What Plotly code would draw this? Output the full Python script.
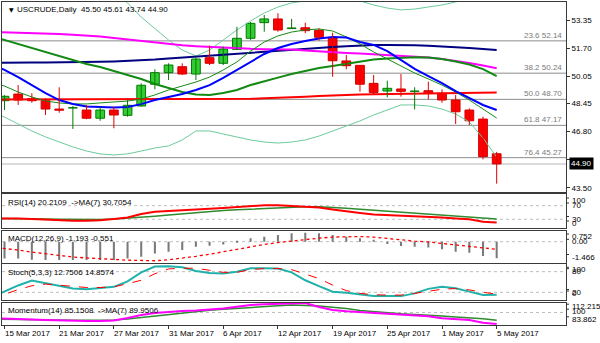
import plotly.graph_objects as go

W, H = 600, 343
FONT = "Liberation Sans, Arial, sans-serif"

def py(p):
    return 1 - p / H

def px(p):
    return p / W

# ---------------- data ----------------
dates = ["15 Mar 2017", "21 Mar 2017", "27 Mar 2017", "31 Mar 2017", "6 Apr 2017",
         "12 Apr 2017", "19 Apr 2017", "25 Apr 2017", "1 May 2017", "5 May 2017"]
date_bars = [0, 4, 8, 12, 16, 20, 24, 28, 32, 36]

opens = [48.62, 49.01, 48.74, 48.62, 48.13, 48.19, 48.07, 47.59, 48.07, 47.76,
         48.31, 49.59, 50.27, 50.62, 50.19, 51.15, 50.82, 51.64, 52.29, 53.21,
         53.43, 52.86, 52.91, 52.76, 52.33, 50.96, 50.70, 49.64, 49.19, 49.31,
         49.17, 49.21, 49.06, 48.66, 48.07, 47.54, 45.50]
highs = [48.95, 49.54, 49.06, 48.76, 49.41, 48.31, 48.37, 48.27, 48.27, 48.66,
         49.64, 50.47, 50.82, 50.82, 51.21, 51.86, 51.80, 52.97, 53.25, 53.66,
         53.76, 53.43, 53.21, 52.88, 52.62, 51.31, 50.72, 50.13, 49.80, 50.19,
         49.41, 49.74, 49.29, 48.96, 48.17, 47.68, 45.61]
lows = [48.07, 48.37, 48.50, 47.78, 47.91, 46.96, 47.53, 47.44, 47.00, 47.68,
        48.27, 49.29, 49.84, 50.13, 49.84, 50.72, 50.72, 51.60, 52.20, 52.68,
        52.68, 52.86, 52.59, 52.15, 50.03, 50.47, 49.15, 48.96, 48.82, 48.86,
        48.11, 48.70, 48.50, 47.25, 47.19, 45.17, 43.74]
closes = [48.88, 48.66, 48.62, 48.13, 48.06, 48.21, 47.59, 48.07, 47.78, 48.35,
          49.53, 50.27, 50.72, 50.19, 51.07, 50.82, 51.66, 52.29, 53.17, 53.43,
          52.78, 52.90, 52.74, 52.35, 50.97, 50.68, 49.59, 49.11, 49.35, 49.17,
          49.19, 49.06, 48.66, 47.97, 47.44, 45.33, 44.90]
bars = list(range(len(closes)))
line_x = list(range(-1, 37))

ma_blue = [50.78, 50.43, 50.01, 49.54, 49.07, 48.66, 48.43, 48.28, 48.25, 48.22,
           48.25, 48.42, 48.66, 48.84, 49.01, 49.25, 49.54, 49.96, 50.43, 50.90,
           51.37, 51.72, 51.96, 52.13, 52.28, 52.37, 52.34, 52.07, 51.90, 51.54,
           51.01, 50.49, 50.07, 49.66, 49.19, 48.78, 48.37, 48.07]
ma_navy = [50.84, 50.86, 50.86, 50.87, 50.87, 50.87, 50.88, 50.90, 50.91, 50.93,
           50.96, 51.00, 51.04, 51.10, 51.16, 51.22, 51.28, 51.34, 51.40, 51.46,
           51.51, 51.57, 51.61, 51.66, 51.72, 51.78, 51.83, 51.87, 51.89, 51.90,
           51.90, 51.88, 51.85, 51.82, 51.78, 51.72, 51.66, 51.60]
ma_magenta = [52.66, 52.64, 52.63, 52.60, 52.57, 52.54, 52.50, 52.46, 52.40, 52.31,
              52.22, 52.13, 52.04, 51.96, 51.88, 51.83, 51.78, 51.74, 51.70, 51.67,
              51.65, 51.64, 51.63, 51.57, 51.51, 51.47, 51.43, 51.39, 51.35, 51.31,
              51.27, 51.22, 51.16, 51.07, 50.96, 50.84, 50.69, 50.53]
ma_green = [52.43, 52.19, 51.96, 51.72, 51.49, 51.25, 51.01, 50.78, 50.60, 50.37,
            50.13, 49.90, 49.60, 49.37, 49.13, 48.98, 48.96, 49.07, 49.25, 49.54,
            49.78, 49.98, 50.19, 50.37, 50.54, 50.66, 50.78, 50.93, 51.04, 51.11,
            51.16, 51.17, 51.16, 51.07, 50.93, 50.75, 50.48, 50.07]
ma_thin = [49.72, 49.48, 49.13, 48.84, 48.60, 48.49, 48.43, 48.43, 48.49, 48.54,
           48.60, 48.72, 48.96, 49.25, 49.48, 49.72, 50.01, 50.43, 50.90, 51.54,
           52.07, 52.43, 52.66, 52.78, 52.84, 52.72, 52.37, 51.96, 51.49, 51.07,
           50.66, 50.25, 49.90, 49.54, 49.13, 48.66, 48.13, 47.60]
bb_upper = [56.90, 56.78, 56.60, 56.43, 56.31, 56.19, 56.01, 55.72, 55.37, 54.96,
            54.37, 53.54, 52.84, 52.19, 51.60, 51.25, 51.60, 52.19, 52.78, 53.31,
            53.78, 54.13, 54.37, 54.49, 54.60, 54.66, 54.60, 54.49, 54.25, 54.07,
            53.96, 54.01, 54.13, 54.25, 54.43, 54.60, 55.13, 56.01]
bb_lower = [47.96, 47.66, 47.25, 46.84, 46.49, 46.19, 45.90, 45.66, 45.49, 45.43,
            45.49, 45.66, 45.84, 45.96, 46.31, 46.84, 46.84, 46.66, 46.49, 46.31,
            46.19, 46.13, 46.19, 46.31, 46.54, 46.84, 47.13, 47.43, 47.78, 48.07,
            48.37, 48.37, 48.31, 48.13, 47.84, 47.37, 46.43, 45.31]
ma_red = [48.69] * 16 + [48.70, 48.71, 48.72, 48.73, 48.76, 48.78, 48.81, 48.85,
                         48.89, 48.93, 48.96, 48.98, 49.00, 49.01, 49.03, 49.04,
                         49.06, 49.07, 49.07, 49.09, 49.10, 49.11]

fib_pct = ["23.6", "38.2", "50.0", "61.8", "76.4"]
fib_lvl = [52.14, 50.24, 48.70, 47.17, 45.27]
price_ticks = [53.35, 51.70, 50.05, 48.45, 46.80, 45.15, 43.50]

rsi = [32.4, 32.9, 32.4, 30.9, 29.4, 26.5, 25.9, 25.9, 27.1, 30.9,
       35.3, 45.6, 52.4, 54.4, 55.9, 58.2, 60.9, 63.2, 66.2, 70.6,
       71.5, 71.2, 69.1, 67.6, 64.7, 58.8, 52.9, 48.5, 44.1, 42.6,
       41.2, 39.7, 38.2, 35.3, 32.4, 30.0, 22.9, 20.2]
rsi_ma = [32.9, 32.9, 32.4, 31.8, 30.9, 30.3, 29.7, 29.4, 29.7, 30.9,
          32.9, 35.9, 39.1, 42.6, 46.2, 49.7, 52.9, 55.9, 58.2, 60.3,
          62.1, 63.8, 65.6, 66.8, 66.8, 65.3, 62.4, 59.4, 56.5, 53.5,
          50.6, 47.9, 45.0, 42.6, 40.3, 37.9, 35.0, 30.7]
macd = [-1.2, -1.2, -1.3, -1.32, -1.32, -1.32, -1.32, -1.32, -1.32, -1.2,
        -1.08, -0.84, -0.72, -0.6, -0.36, -0.3, -0.2, -0.05, 0.24, 0.36,
        0.48, 0.6, 0.65, 0.6, 0.48, 0.36, 0.24, 0.1, -0.17, -0.31,
        -0.36, -0.41, -0.55, -0.72, -0.79, -1.03, -1.193]
macd_sig = [-0.38, -0.47, -0.6, -0.75, -0.88, -1.0, -1.1, -1.17, -1.2, -1.27,
            -1.33, -1.36, -1.37, -1.3, -1.2, -1.05, -0.9, -0.72, -0.55, -0.36,
            -0.2, -0.06, 0.06, 0.14, 0.25, 0.33, 0.37, 0.37, 0.33, 0.22,
            0.13, 0.04, -0.02, -0.12, -0.22, -0.33, -0.44, -0.551]
stoch_k = [5, 22, 40, 54, 46, 38, 31, 29, 32, 36,
           52, 78, 95, 96, 93, 82, 76, 75, 80, 90,
           90, 89, 78, 55, 38, 22, 19, 14, 9, 9,
           9, 17, 30, 36, 32, 22, 12, 12.75]
stoch_d = [5, 14, 28, 39, 44, 40, 36, 34, 34, 36,
           45, 55, 74, 88, 90, 90, 84, 78, 78, 86,
           89, 89, 86, 72, 60, 41, 25, 17, 13, 12,
           12, 17, 22, 29, 31, 27, 20, 14.86]
mom = [92.88, 92.50, 91.85, 90.95, 90.31, 89.66, 89.02, 89.02, 89.02, 89.66,
       92.88, 96.75, 99.33, 101.00, 101.91, 102.55, 103.84, 105.13, 107.45, 109.64,
       110.54, 110.93, 111.57, 112.2, 107.0, 103.2, 101.5, 100.3, 99.0, 97.7,
       96.6, 95.8, 95.0, 92.5, 91.0, 90.3, 86.8, 85.15]
mom_ma = [91.59, 91.21, 90.82, 90.56, 90.31, 90.31, 90.05, 89.92, 89.92, 90.31,
          91.59, 93.53, 95.46, 97.39, 99.33, 101.26, 102.81, 104.10, 105.38, 106.67,
          107.70, 108.61, 109.5, 109.3, 108.2, 106.7, 105.2, 102.5, 100.8, 99.3,
          98.3, 97.5, 96.8, 95.5, 94.2, 93.4, 91.8, 89.95]

# ---------------- figure ----------------
fig = go.Figure()

def line(y, color, width, xa="x", ya="y", dash="solid", x=None):
    fig.add_trace(go.Scatter(x=x if x is not None else line_x, y=y, mode="lines",
                             line=dict(color=color, width=width, dash=dash),
                             xaxis=xa, yaxis=ya, hoverinfo="skip"))

# Bollinger bands & MAs
line(bb_upper, "#6CCB9A", 1)
line(bb_lower, "#6CCB9A", 1)
line(ma_red, "#FF0000", 2)
line(ma_navy, "#000080", 2)
line(ma_magenta, "#FF00FF", 2)
line(ma_green, "#138A13", 2)
line(ma_thin, "#138A13", 1)
line(ma_blue, "#0000FF", 2)

# wicks
for up in (True, False):
    wx, wy = [], []
    for i in bars:
        if (closes[i] >= opens[i]) == up:
            wx += [i, i, None]
            wy += [lows[i], highs[i], None]
    fig.add_trace(go.Scatter(x=wx, y=wy, mode="lines",
                             line=dict(color="#007A00" if up else "#E00000", width=1),
                             xaxis="x", yaxis="y", hoverinfo="skip"))

# bodies
base = [min(o, c) for o, c in zip(opens, closes)]
hgt = [max(abs(c - o), 0.015) for o, c in zip(opens, closes)]
fill = ["#33CC33" if c >= o else "#FF0000" for o, c in zip(opens, closes)]
edge = ["#007A00" if c >= o else "#D00000" for o, c in zip(opens, closes)]
fig.add_trace(go.Bar(x=bars, y=hgt, base=base, width=0.64,
                     marker=dict(color=fill, line=dict(color=edge, width=1)),
                     xaxis="x", yaxis="y", hoverinfo="skip"))

# RSI
line(rsi_ma, "#2E8B2E", 1.5, "x2", "y2")
line(rsi, "#FF0000", 2, "x2", "y2")
# MACD
fig.add_trace(go.Bar(x=bars, y=macd, width=0.15, marker=dict(color="#7A7A7A", line=dict(width=0)),
                     xaxis="x3", yaxis="y3", hoverinfo="skip"))
line(macd_sig, "#FF0000", 1.3, "x3", "y3", dash="dot")
# Stoch
line(stoch_k, "#20B2AA", 2, "x4", "y4")
line(stoch_d, "#FF0000", 1, "x4", "y4", dash="dash")
# Momentum
line(mom_ma, "#2E8B2E", 1.5, "x5", "y5")
line(mom, "#FF00FF", 2, "x5", "y5")

# ---------------- layout ----------------
xr = [-0.183, 41.07]
xdom = [px(2), px(566)]
panels = {
    "": (2, 191.7, [43.268, 54.426]),
    "2": (194, 228.3, [3.5, 104.4]),
    "3": (230.7, 262.7, [-1.51, 0.79]),
    "4": (264, 300, [-2.3, 102.3]),
    "5": (302.7, 325, [83.86, 112.6]),
}
BORDER = "#3A3A3A"
lay = dict(width=W, height=H, margin=dict(l=0, r=0, t=0, b=0),
           paper_bgcolor="white", plot_bgcolor="white", showlegend=False,
           barmode="overlay", font=dict(family=FONT, size=8, color="black"))
for k, (top, bot, rng) in panels.items():
    lay["xaxis" + k] = dict(domain=xdom, range=xr, anchor="y" + k, showgrid=False,
                            zeroline=False, showline=True, mirror=True, linecolor=BORDER,
                            linewidth=1, showticklabels=False, ticks="")
    lay["yaxis" + k] = dict(domain=[py(bot), py(top)], range=rng, anchor="x" + k,
                            showgrid=False, zeroline=False, showline=True, mirror=True,
                            linecolor=BORDER, linewidth=1, side="right",
                            showticklabels=False, ticks="")
lay["yaxis"].update(showticklabels=True, ticks="outside", ticklen=3, tickcolor="#333",
                    tickvals=price_ticks, ticktext=[f"{v:.2f}" for v in price_ticks],
                    tickfont=dict(family=FONT, size=8, color="black"))
lay["xaxis5"].update(ticks="outside", ticklen=3, tickcolor="#333", tickvals=date_bars)
fig.update_layout(**lay)

shapes = []
annots = []
# fib lines
for pct, lv in zip(fib_pct, fib_lvl):
    shapes.append(dict(type="line", xref="x domain", yref="y", x0=0, x1=1, y0=lv, y1=lv,
                       line=dict(color="#8C8C8C", width=1), layer="below"))
    annots.append(dict(xref="x domain", yref="y", x=0.997, y=lv, xanchor="right",
                       yanchor="bottom", text=f"{pct} {lv:.2f}", showarrow=False,
                       font=dict(family=FONT, size=8, color="#7A7A7A"), yshift=-1))
# current price line
last = closes[-1]
shapes.append(dict(type="line", xref="x domain", yref="y", x0=0, x1=1, y0=last, y1=last,
                   line=dict(color="#CFCFCF", width=1.5), layer="below"))
annots.append(dict(xref="paper", yref="y", x=px(569), y=last, xanchor="left", yanchor="middle",
                   text=f"{last:.2f}", showarrow=False, bgcolor="black", borderpad=1,
                   font=dict(family=FONT, size=8, color="white")))
# indicator levels
for ya, lv in [("y2", 70), ("y2", 30), ("y3", 0), ("y4", 80), ("y4", 20), ("y5", 100)]:
    shapes.append(dict(type="line", xref="x domain", yref=ya, x0=0, x1=1, y0=lv, y1=lv,
                       line=dict(color="#BDBDBD", width=1, dash="dot"), layer="below"))

# header
annots.append(dict(xref="paper", yref="paper", x=px(7), y=py(9), xanchor="left", yanchor="middle",
                   text="▼", showarrow=False, font=dict(family="DejaVu Sans", size=6, color="black")))
annots.append(dict(xref="paper", yref="paper", x=px(15), y=py(9), xanchor="left", yanchor="middle",
                   text=f"USCRUDE,Daily  {opens[-1]:.2f} {highs[-1]:.2f} {lows[-1]:.2f} {closes[-1]:.2f}",
                   showarrow=False, font=dict(family=FONT, size=8, color="black")))
titles = [("RSI(14) 20.2109  ->MA(7) 30.7054", 202.3),
          ("MACD(12,26,9) -1.193 -0.551", 238.3),
          ("Stoch(5,3,3) 12.7506 14.8574", 272.3),
          ("Momentum(14) 85.1508  ->MA(7) 89.9506", 310)]
for t, yy in titles:
    annots.append(dict(xref="paper", yref="paper", x=px(6), y=py(yy), xanchor="left",
                       yanchor="middle", text=t, showarrow=False,
                       font=dict(family=FONT, size=8, color="black")))
# right labels of indicator panels
side_labels = [("100", 200.5), ("70", 205.5), ("30", 219), ("0", 223.5),
               ("0.752", 236.5), ("0.00", 241.8), ("-1.466", 257),
               ("100", 269.8), ("80", 271.2), ("20", 292), ("0", 293.5),
               ("112.2152", 306.7), ("100", 311.7), ("83.862", 319.3)]
for t, yy in side_labels:
    annots.append(dict(xref="paper", yref="paper", x=px(570), y=py(yy), xanchor="left",
                       yanchor="middle", text=t, showarrow=False,
                       font=dict(family=FONT, size=8, color="black")))
    shapes.append(dict(type="line", xref="paper", yref="paper", x0=px(566), x1=px(569),
                       y0=py(yy - 2.5), y1=py(yy - 2.5), line=dict(color="#333", width=1)))
# date labels
for d, b in zip(dates, date_bars):
    annots.append(dict(xref="x5", yref="paper", x=b, y=py(333), xanchor="left",
                       yanchor="middle", text=d, showarrow=False, xshift=-2,
                       font=dict(family=FONT, size=8, color="black")))

fig.update_layout(shapes=shapes, annotations=annots)
fig.write_html("out.html")
